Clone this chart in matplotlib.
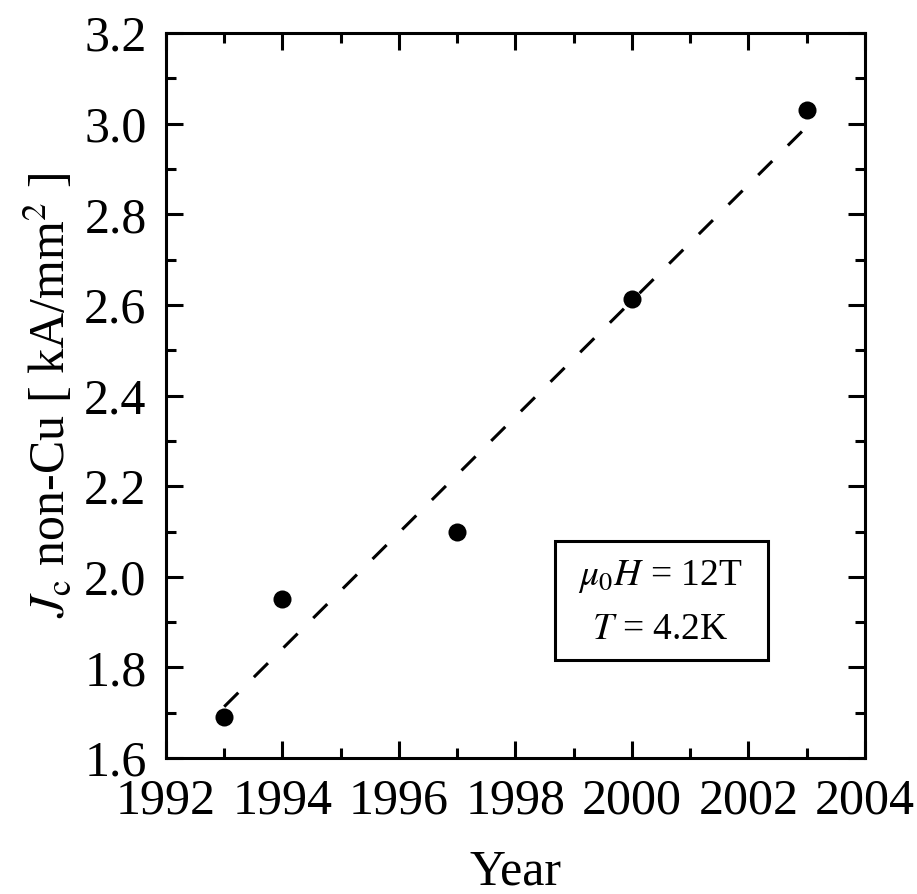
import numpy as np
import matplotlib.pyplot as plt
from matplotlib.patches import Rectangle
from matplotlib.ticker import MultipleLocator

plt.rcParams['font.family'] = 'Liberation Serif'
plt.rcParams['mathtext.fontset'] = 'stix'

year = np.array([1993, 1994, 1997, 2000, 2003])
jc = np.array([1.690, 1.951, 2.098, 2.613, 3.030])

fig = plt.figure(figsize=(9.17, 8.94), dpi=100)
ax = fig.add_axes([0.181, 0.152, 0.762, 0.811])

# linear fit through the measured points
p = np.polyfit(year, jc, 1)
xfit = np.array([year.min(), year.max()])
ax.plot(xfit, np.polyval(p, xfit), color='black', lw=2.2, dashes=(6.5, 7.2))

ax.plot(year, jc, 'o', color='black', markersize=13, markeredgewidth=0)

ax.set_xlim(1992, 2004)
ax.set_ylim(1.6, 3.2)
ax.xaxis.set_major_locator(MultipleLocator(2))
ax.xaxis.set_minor_locator(MultipleLocator(1))
ax.yaxis.set_major_locator(MultipleLocator(0.2))
ax.yaxis.set_minor_locator(MultipleLocator(0.1))
ax.yaxis.set_major_formatter(plt.FormatStrFormatter('%.1f'))

ax.tick_params(which='both', direction='in', top=True, right=True,
               width=2.2, labelsize=36)
ax.tick_params(which='major', length=12, pad=14)
ax.tick_params(which='minor', length=7)
for s in ax.spines.values():
    s.set_linewidth(2.2)

ax.set_xlabel('Year', fontsize=36, labelpad=18)
ax.set_ylabel(r'$J_{\rm c}$ non-Cu [ kA/mm$^2$ ]', fontsize=36, labelpad=6)

ax.add_patch(Rectangle((0.557, 0.135), 0.304, 0.164, transform=ax.transAxes,
                       fill=False, lw=2.2, ec='black'))
ax.text(0.708, 0.250, r'$\mu_{\rm 0}H$ = 12T', transform=ax.transAxes,
        ha='center', va='center', fontsize=27)
ax.text(0.708, 0.177, r'$T$ = 4.2K', transform=ax.transAxes,
        ha='center', va='center', fontsize=27)

fig.savefig('out.png', dpi=100)
